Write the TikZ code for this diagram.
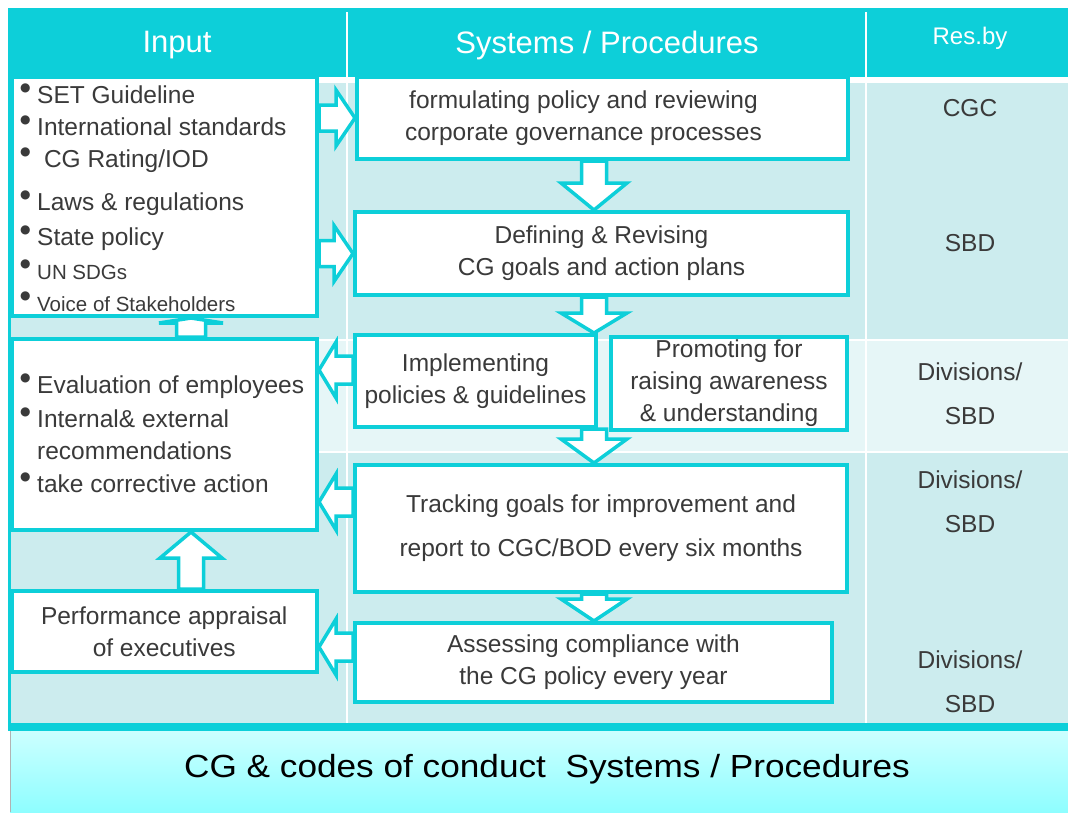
\documentclass[tikz,border=0pt]{standalone}
\usepackage{fontspec}
\setmainfont{Liberation Sans}
\newfontfamily\symfont{DejaVu Sans}
\usepackage{tikz}
\usetikzlibrary{calc}

\definecolor{cgcyan}{HTML}{0DCFD9}
\definecolor{bgcyan}{HTML}{CCECEE}
\definecolor{lightrow}{HTML}{E6F6F7}
\definecolor{textgray}{HTML}{3A3A3A}
\definecolor{bandtop}{HTML}{CCFFFF}
\definecolor{bandbot}{HTML}{8EFEFF}

\newcommand{\bodyfont}{\fontsize{24.5}{32}\selectfont}
\newcommand{\smallfont}{\fontsize{20.5}{32}\selectfont}
\newcommand{\headfont}{\fontsize{31}{36}\selectfont}
\newcommand{\itm}[1]{\makebox[17pt][l]{\raisebox{12pt}[0pt][0pt]{\fontsize{12}{12}\symfont ●}}#1}

\tikzstyle{procbox} = [rectangle, draw=cgcyan, line width=4pt, fill=white, text=textgray, align=center, inner sep=0pt, font=\bodyfont]
\tikzstyle{listtext} = [text=textgray, align=left, inner sep=0pt, font=\bodyfont]
\tikzstyle{restext} = [text=textgray, align=center, inner sep=0pt, font=\bodyfont]
\tikzstyle{headtext} = [text=white, inner sep=0pt, font=\headfont]
\tikzstyle{flowarr} = [draw=cgcyan, line width=3.5pt, fill=white]

% block arrow: tail, tip, head length, shaft half width, head half width
\newcommand{\flowarrow}[5]{%
  \path (#1) coordinate (fa-t);
  \path (#2) coordinate (fa-h);
  \path ($(fa-h)!#3!(fa-t)$) coordinate (fa-b);
  \draw[flowarr] ($(fa-t)!#4!90:(fa-h)$) -- ($(fa-b)!#4!90:(fa-h)$) -- ($(fa-b)!#5!90:(fa-h)$) -- (fa-h)
    -- ($(fa-b)!#5!-90:(fa-h)$) -- ($(fa-b)!#4!-90:(fa-h)$) -- ($(fa-t)!#4!-90:(fa-h)$) -- cycle;
}

\begin{document}
\begin{tikzpicture}[x=1pt, y=-1pt]
	\useasboundingbox (0,0) rectangle (1068,812);

	% table background and rows
	\fill[bgcyan] (8,76) rectangle (1068,724);
	\fill[lightrow] (318,340) rectangle (1068,452);
	\draw[white, line width=2pt] (318,340) -- (1068,340) (318,452) -- (1068,452);
	\draw[white, line width=6pt] (318,80) -- (1068,80);

	% header
	\fill[cgcyan] (8,8) rectangle (1068,77);
	\draw[white, line width=2pt] (347,12) -- (347,724) (866,12) -- (866,724);
	\node (hdr-input) [headtext] at (177,45) {Input};
	\node (hdr-proc) [headtext] at (607,45) {Systems / Procedures};
	\node (hdr-res) [headtext, font=\fontsize{24}{28}\selectfont] at (970,38) {Res.by};

	% footer band
	\draw[cgcyan, line width=3pt] (9.5,8) -- (9.5,731);
	\fill[cgcyan] (8,723) rectangle (1068,731);
	\shade[top color=bandtop, bottom color=bandbot] (10,731) rectangle (1068,812);
	\draw[gray!60, line width=1pt] (10.5,731) -- (10.5,812);
	\node (footer) [text=black, inner sep=0pt, xscale=1.1, font=\fontsize{32}{36}\selectfont] at (547,769) {CG \& codes of conduct\ \ Systems / Procedures};

	% input column
	\node (inputs) [procbox, minimum width=305.5pt, minimum height=239pt] at (164.25,196.5) {};
	\node (inputs-list) [listtext, anchor=north west] at (20,86) {\itm{SET Guideline}\\
		\itm{International standards}\\
		\itm{\ CG Rating/IOD}\\[11pt]
		\itm{Laws \& regulations}\\[3pt]
		\itm{State policy}\\[2pt]
		\itm{{\smallfont UN SDGs}}\\
		\itm{{\smallfont Voice of Stakeholders}}};
	\node (evalbox) [procbox, minimum width=305.5pt, minimum height=191pt] at (164.25,434.5) {};
	\node (eval-list) [listtext, anchor=north west] at (20,376) {\itm{Evaluation of employees}\\[2pt]
		\itm{Internal\& external}\\
		\hspace*{17pt}recommendations\\[1pt]
		\itm{take corrective action}};
	\node (appraisal) [procbox, minimum width=305.5pt, minimum height=81pt] at (164.25,631.5) {Performance appraisal\\of executives};

	% procedures column
	\node (formulate) [procbox, minimum width=491pt, minimum height=82pt] at (602.5,118) {formulating policy and reviewing\hspace*{38pt}\\corporate governance processes\hspace*{38pt}};
	\node (define) [procbox, minimum width=493pt, minimum height=83pt] at (601.5,253.5) {Defining \& Revising\\CG goals and action plans};
	\node (implement) [procbox, minimum width=241pt, minimum height=92pt] at (475.5,381) {Implementing\\policies \& guidelines};
	\node (promote) [procbox, minimum width=236pt, minimum height=93pt] at (729,383.5) {Promoting for\\raising awareness\\\& understanding};
	\node (tracking) [procbox, minimum width=492pt, minimum height=127pt] at (601,528.5) {Tracking goals for improvement and\\[12pt]report to CGC/BOD every six months};
	\node (assess) [procbox, minimum width=477pt, minimum height=79pt] at (593.5,662.5) {Assessing compliance with\\the CG policy every year};

	% responsible units
	\node (res-cgc) [restext] at (970,108) {CGC};
	\node (res-sbd) [restext] at (970,243) {SBD};
	\node (res-div1) [restext] at (970,394) {Divisions/\\[12pt]SBD};
	\node (res-div2) [restext] at (970,502) {Divisions/\\[12pt]SBD};
	\node (res-div3) [restext] at (970,682) {Divisions/\\[12pt]SBD};

	% arrows
	\coordinate (flowx) at (594,0);
	\coordinate (upx) at (191,0);
	\coordinate (row-impl) at (0,370);
	\coordinate (row-track) at (0,502);
	\coordinate (row-assess) at (0,647);
	\flowarrow{inputs.east |- formulate}{formulate.west}{19pt}{13pt}{28pt}
	\flowarrow{inputs.east |- define}{define.west}{19pt}{13pt}{28pt}
	\flowarrow{flowx |- formulate.south}{flowx |- define.north}{27pt}{12.5pt}{33pt}
	\flowarrow{flowx |- define.south}{flowx |- implement.north}{20pt}{12.5pt}{33pt}
	\flowarrow{flowx |- implement.south}{flowx |- tracking.north}{24pt}{12.5pt}{33pt}
	\flowarrow{flowx |- tracking.south}{flowx |- assess.north}{22pt}{12.5pt}{33pt}
	\flowarrow{implement.west |- row-impl}{evalbox.east |- row-impl}{17pt}{14pt}{28pt}
	\flowarrow{tracking.west |- row-track}{evalbox.east |- row-track}{17pt}{14pt}{28pt}
	\flowarrow{assess.west |- row-assess}{appraisal.east |- row-assess}{17pt}{14pt}{28pt}
	\flowarrow{upx |- appraisal.north}{upx |- evalbox.south}{26pt}{12.5pt}{31pt}
	\flowarrow{upx |- evalbox.north}{upx |- inputs.south}{5pt}{14.5pt}{32pt}
\end{tikzpicture}
\end{document}
